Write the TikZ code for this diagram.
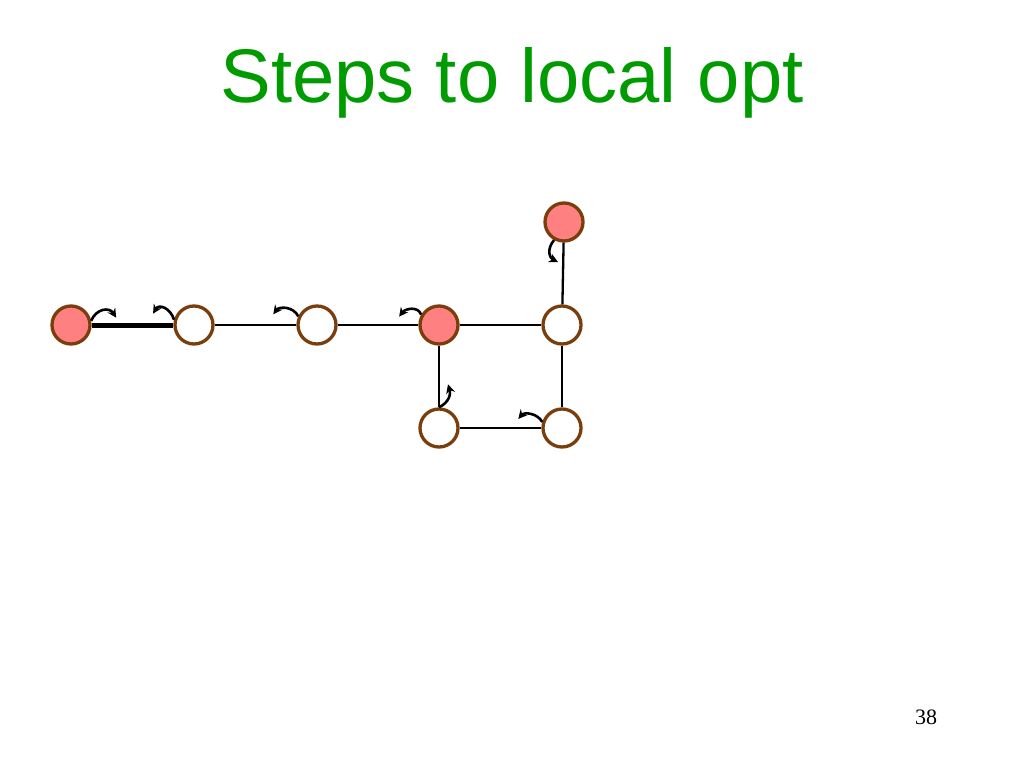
\documentclass[tikz,border=0pt]{standalone}
\usepackage{fontspec}
\setmainfont{Liberation Serif}
\newfontfamily\titlefont{Liberation Sans}
\usetikzlibrary{arrows.meta}
\definecolor{titlegreen}{RGB}{0,155,0}
\definecolor{nodebrown}{RGB}{122,62,12}
\definecolor{nodepink}{RGB}{255,128,128}
\tikzset{
  vert/.style={circle, draw=nodebrown, line width=3.3pt, minimum size=38pt, inner sep=0pt, fill=white},
  hot/.style={vert, fill=nodepink},
  edge/.style={line width=2.3pt, black},
  thickedge/.style={line width=5pt, black},
  move/.style={line width=2.6pt, black, -{Stealth[length=9pt,width=9pt]}},
}
\begin{document}
\begin{tikzpicture}[x=1pt,y=-1pt]
\useasboundingbox (0,0) rectangle (1024,768);
\node[anchor=base, text=titlegreen, font=\titlefont\fontsize{76}{80}\selectfont] (title) at (512,102) {Steps to local opt};
\node[anchor=base, font=\fontsize{22}{24}\selectfont] (page) at (926,724) {38};

\node[hot]  (A) at (71,325) {};
\node[vert] (B) at (194,325) {};
\node[vert] (C) at (317,325) {};
\node[hot]  (D) at (439,325) {};
\node[vert] (E) at (562,325) {};
\node[hot]  (F) at (564,222) {};
\node[vert] (G) at (439,428) {};
\node[vert] (H) at (562,428) {};

\draw[thickedge] (A) -- (B);
\draw[edge] (B) -- (C);
\draw[edge] (C) -- (D);
\draw[edge] (D) -- (E);
\draw[edge] (E) -- (F);
\draw[edge] (D) -- (G);
\draw[edge] (G) -- (H);
\draw[edge] (E) -- (H);

\draw[move] (A.12) .. controls +(5,-12) and +(-7,-11) .. ++(25,-3);
\draw[move] (B.165) .. controls +(-4,-12) and +(6,-10) .. ++(-21,-6);
\draw[move] (C.155) .. controls +(-5,-10) and +(6,-8) .. ++(-25,-2);
\draw[move] (D.150) .. controls +(-3,-9) and +(6,-8) .. ++(-22,2);
\draw[move] (F.241) .. controls +(-8,10) and +(-8,-4) .. ++(4,22);
\draw[move] (G.90) .. controls +(10,-5) and +(3,10) .. ++(9,-23);
\draw[move] (H.163) .. controls +(-5,-9) and +(6,-7) .. ++(-24,-3);
\end{tikzpicture}
\end{document}
